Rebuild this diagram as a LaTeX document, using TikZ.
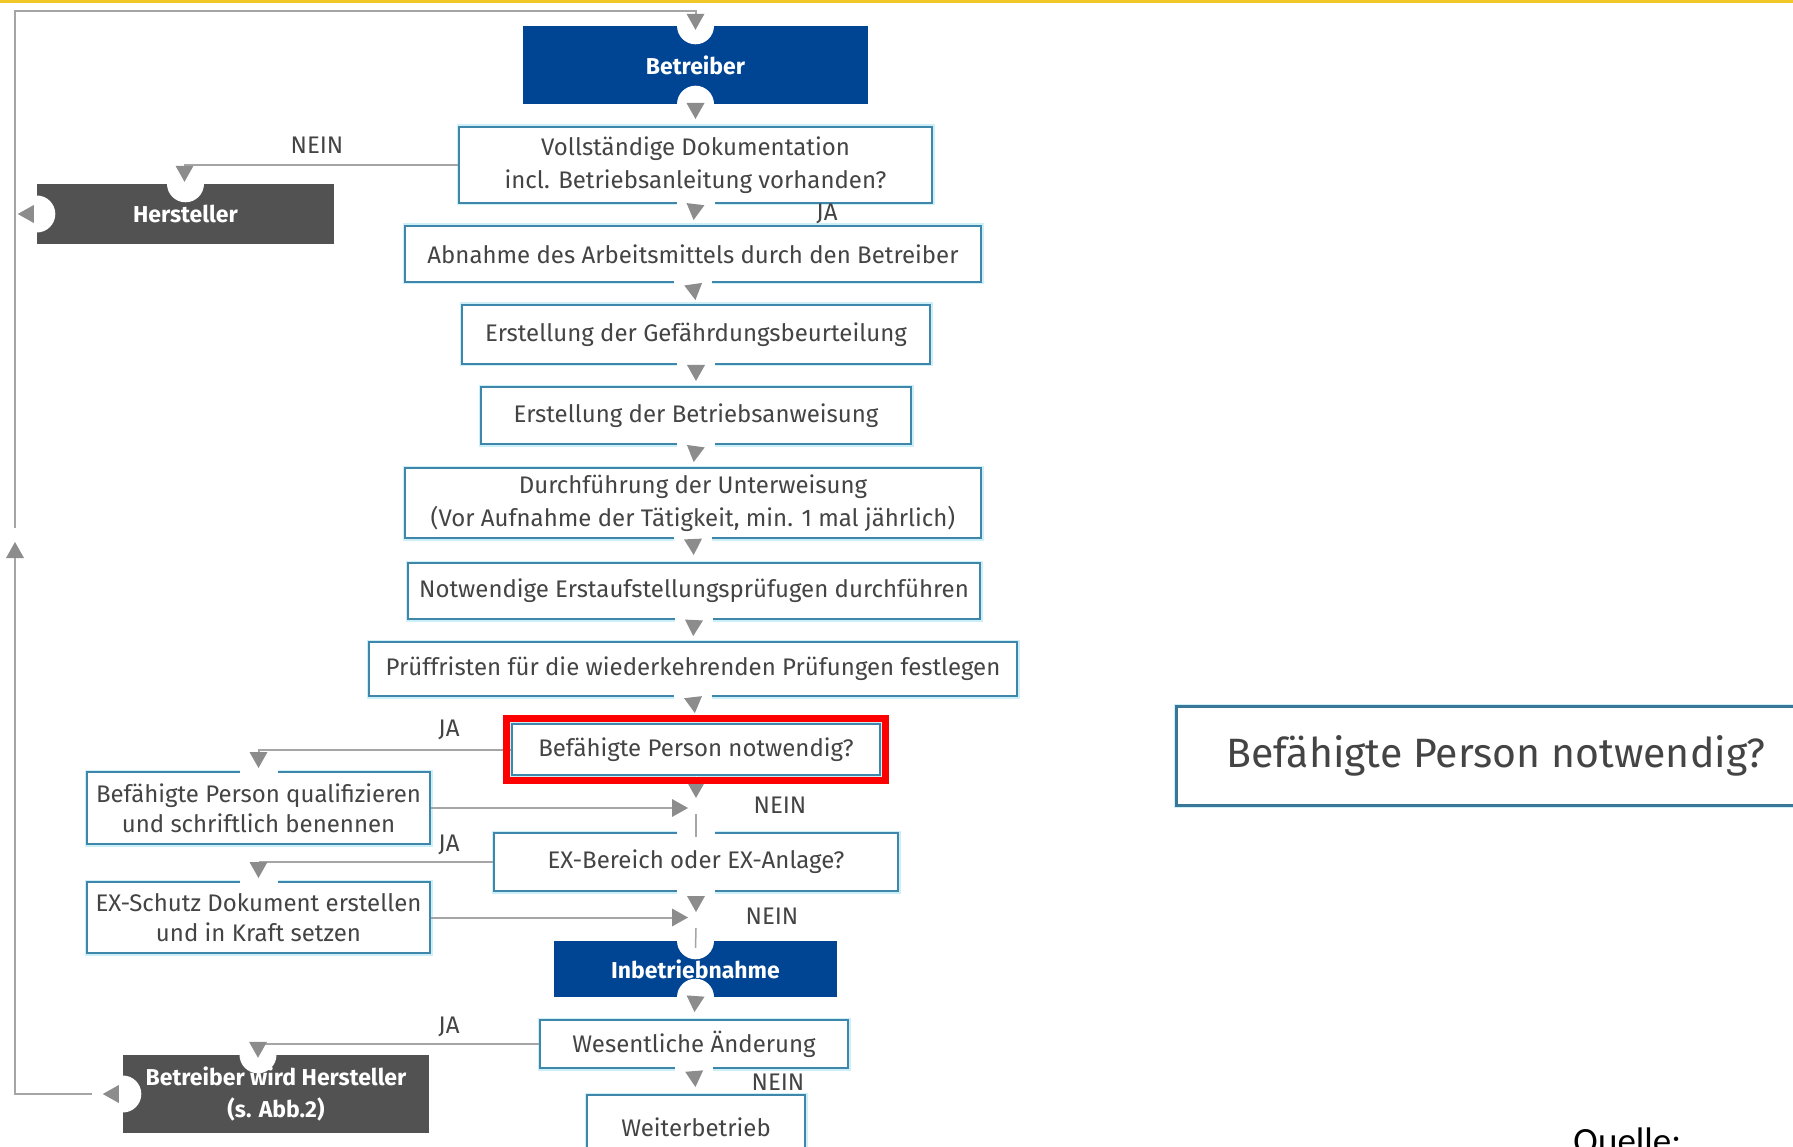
\documentclass[tikz,border=0pt]{standalone}
\usepackage{fontspec}
\setmainfont{Fira Sans}
\newfontfamily\quellefont{Carlito}
\usetikzlibrary{arrows.meta,calc}

\definecolor{bgblue}{RGB}{0,68,148}
\definecolor{bgdark}{RGB}{82,82,82}
\definecolor{frame}{RGB}{62,134,170}
\definecolor{bigframe}{RGB}{58,118,152}
\definecolor{halo}{RGB}{205,240,248}
\definecolor{conn}{RGB}{165,165,165}
\definecolor{tipgray}{RGB}{140,140,140}
\definecolor{txt}{RGB}{68,68,68}
\definecolor{topbar}{RGB}{240,198,40}
\definecolor{hired}{RGB}{255,0,0}

\tikzset{
  tri/.tip={Triangle[length=16pt,width=18pt,color=tipgray,line width=0pt]},
  box/.style={draw=frame, line width=2pt, fill=white, inner sep=0pt, align=center,
    text=txt, font=\fontsize{24}{33}\selectfont,
    preaction={draw=halo, line width=5pt}},
  bluebox/.style={fill=bgblue, inner sep=0pt, align=center, text=white,
    font=\fontsize{23}{32}\selectfont\bfseries},
  darkbox/.style={fill=bgdark, inner sep=0pt, align=center, text=white,
    font=\fontsize{23}{32}\selectfont\bfseries},
  notch/.style={circle, fill=white, inner sep=0pt, minimum size=37pt},
  lbl/.style={text=txt, font=\fontsize{24}{28}\selectfont, inner sep=0pt},
  arr/.style={draw=conn, line width=2pt, -{tri}},
  vflow/.style={draw=white, line width=1pt, -{tri}, shorten >=#1},
  vflow/.default=5pt,
  joinline/.style={draw=conn, line width=1.5pt},
  highlight/.style={draw=hired, line width=7pt},
}

\begin{document}
\begin{tikzpicture}[x=1pt,y=-1pt]
\useasboundingbox (0,0) rectangle (1793,1147);
\clip (0,0) rectangle (1793,1147);
\fill[white] (0,0) rectangle (1793,1147);
\fill[topbar] (0,0) rectangle (1793,3);

% main column
\node[bluebox, minimum width=345pt, minimum height=78pt] (betr) at (695.5,65) {Betreiber};
\node[box, minimum width=473pt, minimum height=76pt] (doku) at (695.5,165)
  {Vollständige Dokumentation\\incl. Betriebsanleitung vorhanden?};
\node[darkbox, minimum width=297pt, minimum height=60pt] (herst) at (185.5,214) {Hersteller};
\node[box, minimum width=576pt, minimum height=56pt] (abn) at (693,254)
  {Abnahme des Arbeitsmittels durch den Betreiber};
\node[box, minimum width=468pt, minimum height=59pt] (gef) at (696,334.5)
  {Erstellung der Gefährdungsbeurteilung};
\node[box, minimum width=430pt, minimum height=57pt] (banw) at (696,415.5)
  {Erstellung der Betriebsanweisung};
\node[box, minimum width=576pt, minimum height=70pt] (unterw) at (693,503)
  {Durchführung der Unterweisung\\(Vor Aufnahme der Tätigkeit, min. 1 mal jährlich)};
\node[box, minimum width=572pt, minimum height=56pt] (erstpr) at (694,591)
  {Notwendige Erstaufstellungsprüfugen durchführen};
\node[box, minimum width=648pt, minimum height=54pt] (fristen) at (693,669)
  {Prüffristen für die wiederkehrenden Prüfungen festlegen};
\node[box, minimum width=368pt, minimum height=51pt] (befp) at (696,749.5)
  {Befähigte Person notwendig?};
\node[box, minimum width=343pt, minimum height=72pt, font=\fontsize{24}{30}\selectfont] (quali) at (258.5,808)
  {Befähigte Person qualifizieren\\und schriftlich benennen};
\node[box, minimum width=404pt, minimum height=58pt] (exber) at (696,862)
  {EX-Bereich oder EX-Anlage?};
\node[box, minimum width=343pt, minimum height=71pt, font=\fontsize{24}{30}\selectfont] (exsch) at (258.5,917.5)
  {EX-Schutz Dokument erstellen\\und in Kraft setzen};
\node[bluebox, minimum width=283pt, minimum height=56pt] (inbetr) at (695.5,969) {Inbetriebnahme};
\node[box, minimum width=308pt, minimum height=48pt] (wes) at (694,1044) {Wesentliche Änderung};
\node[darkbox, minimum width=306pt, minimum height=78pt] (bwh) at (276,1094)
  {Betreiber wird Hersteller\\(s. Abb.2)};
\node[box, minimum width=218pt, minimum height=65pt] (weiter) at (696,1127.5) {Weiterbetrieb};

% enlarged question on the right
\node[box, draw=bigframe, line width=3pt, minimum width=640pt, minimum height=99pt,
  font=\fontsize{41}{48}\selectfont] (big) at (1496,755.5) {Befähigte Person notwendig?};

% source line
\node[anchor=base west, inner sep=0pt, text=black,
  font=\quellefont\fontsize{37}{40}\selectfont] (quelle) at (1573,1153) {Quelle:};

% notches in the filled boxes
\node[notch] at (betr.north) {};
\node[notch] at (betr.south) {};
\node[notch] at (herst.north) {};
\node[notch] at (herst.west) {};
\node[notch] at (inbetr.north) {};
\node[notch] at (inbetr.south) {};
\node[notch] at ($(bwh.north)+(-18,0)$) {};
\node[notch] at (bwh.west) {};

% openings in the frames where the flow passes
\foreach \n in {doku,abn,gef,banw,unterw,erstpr,fristen,exber,wes}
  \fill[white] ($(\n.south)+(-19,-5)$) rectangle ($(\n.south)+(19,5)$);
\foreach \n in {quali,exsch,exber}
  \fill[white] ($(\n.north)+(-19,-5)$) rectangle ($(\n.north)+(19,5)$);

% return loop on the left
\coordinate (lpA) at (92,1094);
\coordinate (lpB) at (15,1094);
\coordinate (lpC) at (15,542);
\coordinate (lpD) at (15,528);
\coordinate (lpE) at (15,11);
\draw[vflow=0pt] (bwh.west) -- ++(-20,0);
\draw[vflow=0pt] (herst.west) -- ++(-19,0);
\draw[arr] (lpA) -- (lpB) -- (lpC);
\draw[arr] (lpD) -- (lpE) -| ($(betr.north)+(0,4)$);

% main flow
\draw[vflow=7pt] (betr.south) -- (doku.north);
\draw[vflow] (doku.south) -- (abn.north);
\draw[vflow=4pt] (abn.south) -- (gef.north);
\draw[vflow] (gef.south) -- (banw.north);
\draw[vflow] (banw.south) -- (unterw.north);
\draw[vflow=7pt] (unterw.south) -- (erstpr.north);
\draw[vflow] (erstpr.south) -- (fristen.north);
\draw[vflow=10pt] (fristen.south) -- (befp.north);

\coordinate (j1) at (696,798);
\coordinate (j1b) at (696,814);
\coordinate (m1) at (688,808);
\coordinate (j2) at (696,912);
\coordinate (j2b) at (696,928);
\coordinate (m2) at (688,917.5);

\draw[vflow=0pt] (befp.south) -- (j1);
\draw[arr] (quali.east) -- (m1);
\draw[joinline] (j1b) -- ($(exber.north)+(0,5)$);
\draw[vflow=0pt] (exber.south) -- (j2);
\draw[arr] (exsch.east) -- (m2);
\draw[joinline] (j2b) -- ($(inbetr.north)+(0,7)$);
\draw[vflow=7pt] (inbetr.south) -- (wes.north);
\draw[vflow=7pt] (wes.south) -- (weiter.north);

% side branches
\draw[arr] (doku.west) -| ($(herst.north)+(-1,-2)$);
\draw[arr] (befp.west) -| ($(quali.north)+(0,-3)$);
\draw[arr] (exber.west) -| ($(exsch.north)+(0,-3)$);
\draw[arr] (wes.west) -| ($(bwh.north)+(-18,3)$);

% branch labels
\node[lbl] (n1) at (317,145) {NEIN};
\node[lbl] (y1) at (827,214) {JA};
\node[lbl] (y2) at (449,730) {JA};
\node[lbl] (n2) at (780,805) {NEIN};
\node[lbl] (y3) at (449,845) {JA};
\node[lbl] (n3) at (772,916) {NEIN};
\node[lbl] (y4) at (449,1027) {JA};
\node[lbl] (n4) at (778,1082) {NEIN};

% highlight around the question
\draw[highlight] ($(befp.north west)+(-4.5,-4.5)$) rectangle ($(befp.south east)+(4.5,4.5)$);
\end{tikzpicture}
\end{document}
